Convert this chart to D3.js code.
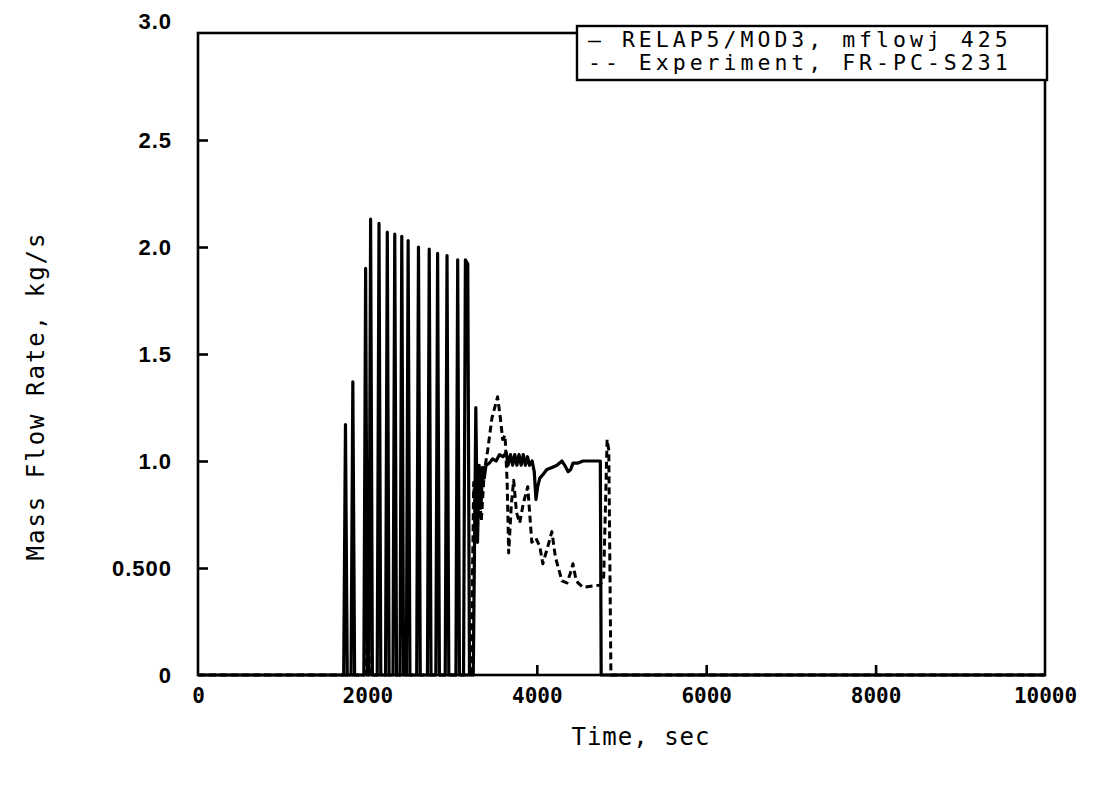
<!DOCTYPE html>
<html>
<head>
<meta charset="utf-8">
<script src="https://cdn.jsdelivr.net/npm/d3@7"></script>
<style>
  html, body { margin: 0; padding: 0; background: #fff; }
  svg { display: block; }
  text { fill: #000; }
</style>
</head>
<body>
<svg id="chart" width="1098" height="792"></svg>
<script>
// ---- data ----
const xTicks = [0, 2000, 4000, 6000, 8000, 10000];
const xTickLabels = ["0", "2000", "4000", "6000", "8000", "10000"];
const yTicks = [0, 0.5, 1.0, 1.5, 2.0, 2.5, 3.0];
const yTickLabels = ["0", "0.500", "1.0", "1.5", "2.0", "2.5", "3.0"];
const seriesNames = ["RELAP5/MOD3, mflowj 425", "Experiment, FR-PC-S231"];

// RELAP5 calculation (solid)
const relapTime = [0,1720,1741,1762, 1807,1828,1849, 1958,1979,2000, 2017,2038,2059,
  2116,2137,2158, 2214,2235,2256, 2302,2323,2344, 2385,2406,2427, 2460,2481,2502,
  2582,2603,2624, 2709,2730,2751, 2808,2829,2850, 2919,2940,2961, 3045,3066,3087,
  3135,3157,3185,3205, 3250,3280,3300,3320,3340,3360,3380,3400,3440,3478,3520,3560,3600,
  3640,3660,3690,3715,3740,3765,3790,3815,3840,3865,3890,3915,3945,3970,3990,4010,4036,
  4080,4119,4180,4238,4297,4330,4370,4400,4427,4480,4546,4750,4760,10000];
const relapFlow = [0,0,1.17,0, 0,1.37,0, 0,1.90,0, 0,2.13,0,
  0,2.11,0, 0,2.07,0, 0,2.06,0, 0,2.05,0, 0,2.03,0,
  0,2.00,0, 0,1.99,0, 0,1.97,0, 0,1.96,0, 0,1.94,0,
  0,1.94,1.92,0, 0,1.25,0.62,0.98,0.78,0.97,0.92,0.98,0.99,1.01,1.00,1.03,1.02,
  1.04,0.98,1.03,0.98,1.03,0.98,1.03,0.98,1.03,0.98,1.02,0.98,1.00,0.95,0.82,0.88,0.92,
  0.94,0.96,0.97,0.98,1.00,0.98,0.95,0.96,0.99,0.99,1.00,1.00,0,0];

// Experiment (dashed)
const expTime = [0,1965,1985,2005,2025,3225,3255,3290,3320,3345,3380,3420,3470,3537,3570,
  3597,3625,3650,3668,3700,3727,3760,3798,3840,3893,3941,3988,4036,4071,4130,4178,4220,
  4297,4356,4400,4427,4460,4487,4546,4750,4790,4830,4850,4875,10000];
const expFlow = [0,0,0.45,0.44,0,0,0.90,0.62,0.85,0.72,0.95,1.05,1.20,1.30,1.20,
  1.10,1.12,0.90,0.57,0.80,0.91,0.76,0.71,0.80,0.88,0.62,0.64,0.60,0.52,0.60,0.67,0.55,
  0.44,0.43,0.48,0.52,0.45,0.43,0.41,0.42,0.46,1.10,1.05,0,0];

// ---- layout ----
const L = 198, R = 1045, T = 33, B = 675;
const svg = d3.select("#chart");
const x = d3.scaleLinear().domain([0, 10000]).range([L, R]);
const y = d3.scaleLinear().domain([0, 3]).range([B, T]);

const relap = relapTime.map((t, i) => [t, relapFlow[i]]);
const exp = expTime.map((t, i) => [t, expFlow[i]]);
const line = d3.line().x(d => x(d[0])).y(d => y(d[1]));

// series
svg.append("path").datum(relap).attr("d", line)
  .attr("fill", "none").attr("stroke", "#000").attr("stroke-width", 3.2)
  .attr("stroke-linejoin", "round");
svg.append("path").datum(exp).attr("d", line)
  .attr("fill", "none").attr("stroke", "#000").attr("stroke-width", 3)
  .attr("stroke-dasharray", "7,4").attr("stroke-linejoin", "round");

// frame
svg.append("rect").attr("x", L).attr("y", T).attr("width", R - L).attr("height", B - T)
  .attr("fill", "none").attr("stroke", "#000").attr("stroke-width", 2.6);

// axes (inward ticks)
const xAxis = d3.axisBottom(x).tickValues(xTicks)
  .tickFormat((d, i) => xTickLabels[i]).tickSize(-10).tickPadding(14);
const gx = svg.append("g").attr("transform", `translate(0,${B})`).call(xAxis);
gx.select(".domain").remove();
gx.selectAll(".tick line").attr("stroke", "#000").attr("stroke-width", 2.6)
  .filter(d => d === 0 || d === 10000).remove();
gx.selectAll(".tick text").attr("font-family", "DejaVu Sans Mono").attr("font-weight", "bold")
  .attr("font-size", 21).attr("dy", "0.71em").attr("y", 13);

const yAxis = d3.axisLeft(y).tickValues(yTicks)
  .tickFormat((d, i) => yTickLabels[i]).tickSize(-10).tickPadding(26);
const gy = svg.append("g").attr("transform", `translate(${L},0)`).call(yAxis);
gy.select(".domain").remove();
gy.selectAll(".tick line").attr("stroke", "#000").attr("stroke-width", 2.6)
  .filter(d => d === 0 || d === 3).remove();
gy.selectAll(".tick text").attr("font-family", "Liberation Sans")
  .attr("font-weight", "bold").attr("font-size", 22).attr("letter-spacing", 1)
  .attr("x", -26);
gy.selectAll(".tick").filter(d => d === 3).select("text").attr("dy", "-0.2em");

// axis titles
svg.append("text").attr("x", 641).attr("y", 745).attr("text-anchor", "middle")
  .attr("font-family", "DejaVu Sans Mono").attr("font-size", 24)
  .attr("letter-spacing", 1).text("Time, sec");
svg.append("text").attr("transform", "translate(44,396) rotate(-90)")
  .attr("text-anchor", "middle").attr("font-family", "DejaVu Sans Mono")
  .attr("font-size", 24).attr("letter-spacing", 2).text("Mass Flow Rate, kg/s");

// legend
const lg = svg.append("g");
lg.append("rect").attr("x", 577).attr("y", 26).attr("width", 470).attr("height", 54)
  .attr("fill", "#fff").attr("stroke", "#000").attr("stroke-width", 2.4);
const legendMarks = ["—", "--"];
seriesNames.forEach((name, i) => {
  lg.append("text").attr("x", 588).attr("y", 47 + i * 23)
    .attr("font-family", "DejaVu Sans Mono").attr("font-size", 21.5)
    .attr("letter-spacing", 4).text(legendMarks[i] + " " + name);
});
</script>
</body>
</html>
